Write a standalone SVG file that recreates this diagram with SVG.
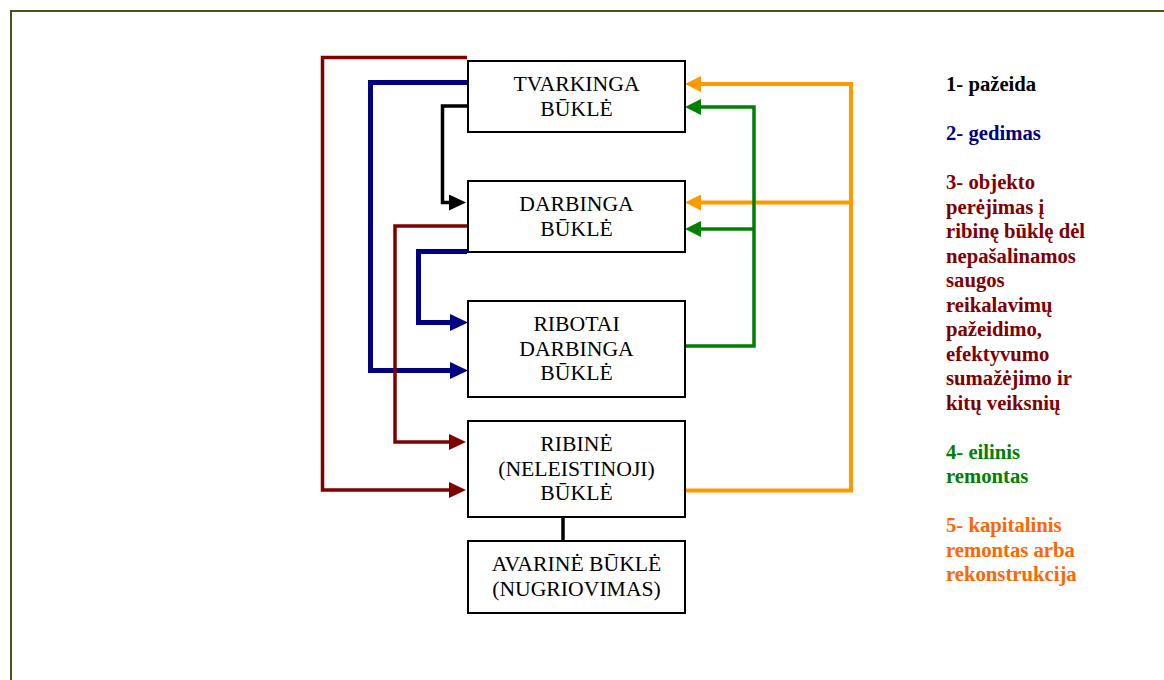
<svg xmlns="http://www.w3.org/2000/svg" width="1164" height="680" viewBox="0 0 1164 680">
<style>
.box{fill:#fff;stroke:#000;stroke-width:2}
.bt{font-family:"Liberation Serif","Times New Roman",serif;font-size:21.7px;fill:#000;text-anchor:middle}
.lg{font-family:"Liberation Serif","Times New Roman",serif;font-size:20.7px;font-weight:bold}
.c{fill:none;stroke-linejoin:miter;stroke-linecap:butt}
</style>
<defs>
<marker id="aK" markerUnits="userSpaceOnUse" markerWidth="17" markerHeight="16" refX="7" refY="8" orient="auto"><path d="M0,0 L17,8 L0,16 z" fill="#000"/></marker>
<marker id="aB" markerUnits="userSpaceOnUse" markerWidth="18" markerHeight="17" refX="8" refY="8.5" orient="auto"><path d="M0,0 L18,8.5 L0,17 z" fill="#000080"/></marker>
<marker id="aR" markerUnits="userSpaceOnUse" markerWidth="17" markerHeight="16" refX="7" refY="8" orient="auto"><path d="M0,0 L17,8 L0,16 z" fill="#800000"/></marker>
<marker id="aG" markerUnits="userSpaceOnUse" markerWidth="16" markerHeight="16" refX="6" refY="8" orient="auto"><path d="M0,0 L16,8 L0,16 z" fill="#008000"/></marker>
<marker id="aO" markerUnits="userSpaceOnUse" markerWidth="16" markerHeight="16" refX="6" refY="8" orient="auto"><path d="M0,0 L16,8 L0,16 z" fill="#FF9900"/></marker>
</defs>
<rect x="0" y="0" width="1164" height="680" fill="#fff"/>
<rect x="11" y="11" width="1200" height="720" fill="none" stroke="#4f4f1e" stroke-width="2"/>

<g id="connectors">
<path class="c" d="M467,57.5 H322.5 V490 H456" stroke="#800000" stroke-width="3.5" marker-end="url(#aR)"/>
<path class="c" d="M467,82.5 H370.5 V370.5 H458" stroke="#000080" stroke-width="5" marker-end="url(#aB)"/>
<path class="c" d="M467,106 H442.5 V202.5 H456" stroke="#000" stroke-width="3.5" marker-end="url(#aK)"/>
<path class="c" d="M467,226 H395 V442 H456" stroke="#800000" stroke-width="3.5" marker-end="url(#aR)"/>
<path class="c" d="M467,251.5 H418.5 V322.5 H458" stroke="#000080" stroke-width="5" marker-end="url(#aB)"/>
<path class="c" d="M684,490.5 H851 V84 H695" stroke="#FF9900" stroke-width="4" marker-end="url(#aO)"/>
<path class="c" d="M851,202.5 H695" stroke="#FF9900" stroke-width="4" marker-end="url(#aO)"/>
<path class="c" d="M684,346 H754 V107 H695" stroke="#008000" stroke-width="3.5" marker-end="url(#aG)"/>
<path class="c" d="M754,229 H695" stroke="#008000" stroke-width="3.5" marker-end="url(#aG)"/>
<path class="c" d="M563,518 V541" stroke="#000" stroke-width="3.5"/>
</g>

<g id="n1"><rect class="box" x="468" y="61" width="217" height="71"/>
<text class="bt" x="576.5" y="91">TVARKINGA</text><text class="bt" x="576.5" y="116">BŪKLĖ</text></g>
<g id="n2"><rect class="box" x="468" y="181" width="217" height="71"/>
<text class="bt" x="576.5" y="211">DARBINGA</text><text class="bt" x="576.5" y="236">BŪKLĖ</text></g>
<g id="n3"><rect class="box" x="468" y="301" width="217" height="96"/>
<text class="bt" x="576.5" y="331">RIBOTAI</text><text class="bt" x="576.5" y="355.5">DARBINGA</text><text class="bt" x="576.5" y="380">BŪKLĖ</text></g>
<g id="n4"><rect class="box" x="468" y="421" width="217" height="96"/>
<text class="bt" x="576.5" y="451">RIBINĖ</text><text class="bt" x="576.5" y="475.5">(NELEISTINOJI)</text><text class="bt" x="576.5" y="500">BŪKLĖ</text></g>
<g id="n5"><rect class="box" x="468" y="541" width="217" height="72"/>
<text class="bt" x="576.5" y="571">AVARINĖ BŪKLĖ</text><text class="bt" x="576.5" y="595.5">(NUGRIOVIMAS)</text></g>

<g id="legend">
<text class="lg" x="946" y="91" fill="#000">1- pažeida</text>
<text class="lg" x="946" y="140" fill="#000080">2- gedimas</text>
<g fill="#800000">
<text class="lg" x="946" y="189">3- objekto</text>
<text class="lg" x="946" y="213.5">perėjimas į</text>
<text class="lg" x="946" y="238">ribinę būklę dėl</text>
<text class="lg" x="946" y="262.5">nepašalinamos</text>
<text class="lg" x="946" y="287">saugos</text>
<text class="lg" x="946" y="311.5">reikalavimų</text>
<text class="lg" x="946" y="336">pažeidimo,</text>
<text class="lg" x="946" y="360.5">efektyvumo</text>
<text class="lg" x="946" y="385">sumažėjimo ir</text>
<text class="lg" x="946" y="409.5">kitų veiksnių</text>
</g>
<text class="lg" x="946" y="458.5" fill="#008000">4- eilinis</text>
<text class="lg" x="946" y="483" fill="#008000">remontas</text>
<text class="lg" x="946" y="532" fill="#FF6600">5- kapitalinis</text>
<text class="lg" x="946" y="556.5" fill="#FF6600">remontas arba</text>
<text class="lg" x="946" y="581" fill="#FF6600">rekonstrukcija</text>
</g>
</svg>
